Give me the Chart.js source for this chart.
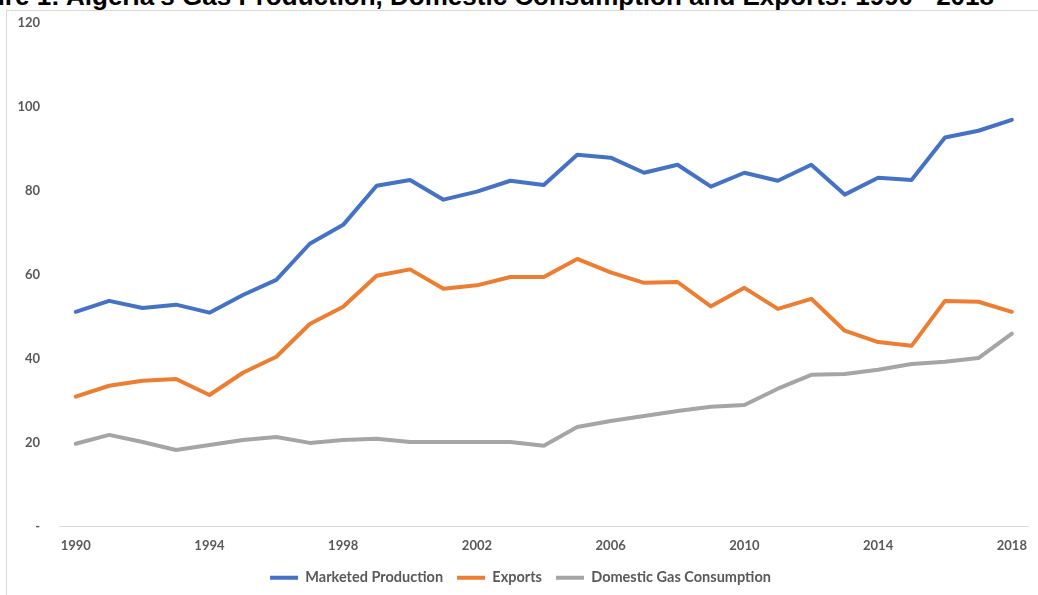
<!DOCTYPE html>
<html>
<head>
<meta charset="utf-8">
<script src="https://cdn.jsdelivr.net/npm/chart.js@4.4.1/dist/chart.umd.min.js"></script>
<style>
  html, body { margin: 0; padding: 0; background: #fff; overflow: hidden; }
  body { width: 1038px; height: 595px; position: relative; }
  #title {
    position: absolute; right: 44px; top: -17px;
    font: bold 26px "Liberation Sans", Arial, sans-serif; line-height: 26px;
    white-space: nowrap; color: #000;
  }
  #frame {
    position: absolute; left: 6px; top: 10px; width: 1060px; height: 620px;
    border: 1px solid #d9d9d9; box-sizing: border-box;
  }
  #wrap { position: absolute; left: 7px; top: -4px; width: 1031px; height: 599px; }
</style>
</head>
<body>
<div id="title">Figure 1: Algeria's Gas Production, Domestic Consumption and Exports: 1990 - 2018</div>
<div id="frame"></div>
<div id="wrap"><canvas id="myChart"></canvas></div>
<script>
// years on the category axis
const years = ['1990','1991','1992','1993','1994','1995','1996','1997','1998','1999',
  '2000','2001','2002','2003','2004','2005','2006','2007','2008','2009',
  '2010','2011','2012','2013','2014','2015','2016','2017','2018'];

// values (bcm)
const marketedProduction = [51.2, 53.8, 52.1, 52.9, 51.0, 55.2, 58.8, 67.4, 71.9, 81.2,
  82.6, 77.9, 79.8, 82.4, 81.4, 88.6, 87.9, 84.3, 86.2, 81.0,
  84.3, 82.4, 86.2, 79.1, 83.1, 82.6, 92.7, 94.3, 96.9];
const exportsData = [31.0, 33.6, 34.8, 35.2, 31.4, 36.7, 40.5, 48.3, 52.4, 59.8,
  61.3, 56.7, 57.5, 59.5, 59.5, 63.8, 60.6, 58.1, 58.3, 52.5,
  56.9, 51.9, 54.3, 46.7, 44.0, 43.1, 53.8, 53.6, 51.2];
const domesticConsumption = [19.8, 21.9, 20.2, 18.3, 19.5, 20.7, 21.4, 20.0, 20.7, 21.0,
  20.2, 20.2, 20.2, 20.2, 19.3, 23.8, 25.2, 26.4, 27.6, 28.6,
  29.0, 32.9, 36.2, 36.4, 37.4, 38.8, 39.3, 40.2, 46.0];

const yTicks = [0, 20, 40, 60, 80, 100, 120];

const tickFont = { family: 'Lato', size: 13, weight: 'bold' };
const legendFont = { family: 'Lato', size: 14.5, weight: 'bold' };
const grey = '#595959';

document.addEventListener('DOMContentLoaded', () => {
  const ctx = document.getElementById('myChart').getContext('2d');

  new Chart(ctx, {
    type: 'line',
    data: {
      labels: years,
      datasets: [{
        label: 'Marketed Production',
        data: marketedProduction,
        borderColor: '#4472C4',
        backgroundColor: '#4472C4',
        borderWidth: 4
      }, {
        label: 'Exports',
        data: exportsData,
        borderColor: '#ED7D31',
        backgroundColor: '#ED7D31',
        borderWidth: 4
      }, {
        label: 'Domestic Gas Consumption',
        data: domesticConsumption,
        borderColor: '#A5A5A5',
        backgroundColor: '#A5A5A5',
        borderWidth: 4
      }]
    },
    options: {
      responsive: true,
      maintainAspectRatio: false,
      animation: false,
      elements: {
        line: { tension: 0, borderCapStyle: 'round', borderJoinStyle: 'round' },
        point: { radius: 0, hoverRadius: 0 }
      },
      layout: { padding: { left: 0, right: 4, top: 4, bottom: 0 } },
      plugins: {
        tooltip: { enabled: false },
        legend: {
          position: 'bottom',
          labels: {
            usePointStyle: true,
            pointStyle: 'line',
            pointStyleWidth: 28,
            color: grey,
            font: legendFont,
            padding: 14
          }
        }
      },
      scales: {
        x: {
          offset: true,
          grid: { display: false, drawTicks: false },
          border: { display: true, color: '#d9d9d9', width: 1 },
          afterFit: s => { s.height = s.height - 8; },
          ticks: {
            autoSkip: false,
            maxRotation: 0,
            color: grey,
            font: tickFont,
            padding: 11,
            callback: function (v, i) { return i % 4 === 0 ? years[i] : null; }
          }
        },
        y: {
          min: 0,
          max: 120,
          afterBuildTicks: s => { s.ticks = yTicks.map(v => ({ value: v })); },
          afterFit: s => { s.width = 52; },
          grid: { display: false, drawTicks: false },
          border: { display: false },
          ticks: {
            color: grey,
            font: tickFont,
            padding: 19,
            callback: v => v === 0 ? '-' : v
          }
        }
      }
    }
  });
});
</script>
</body>
</html>
